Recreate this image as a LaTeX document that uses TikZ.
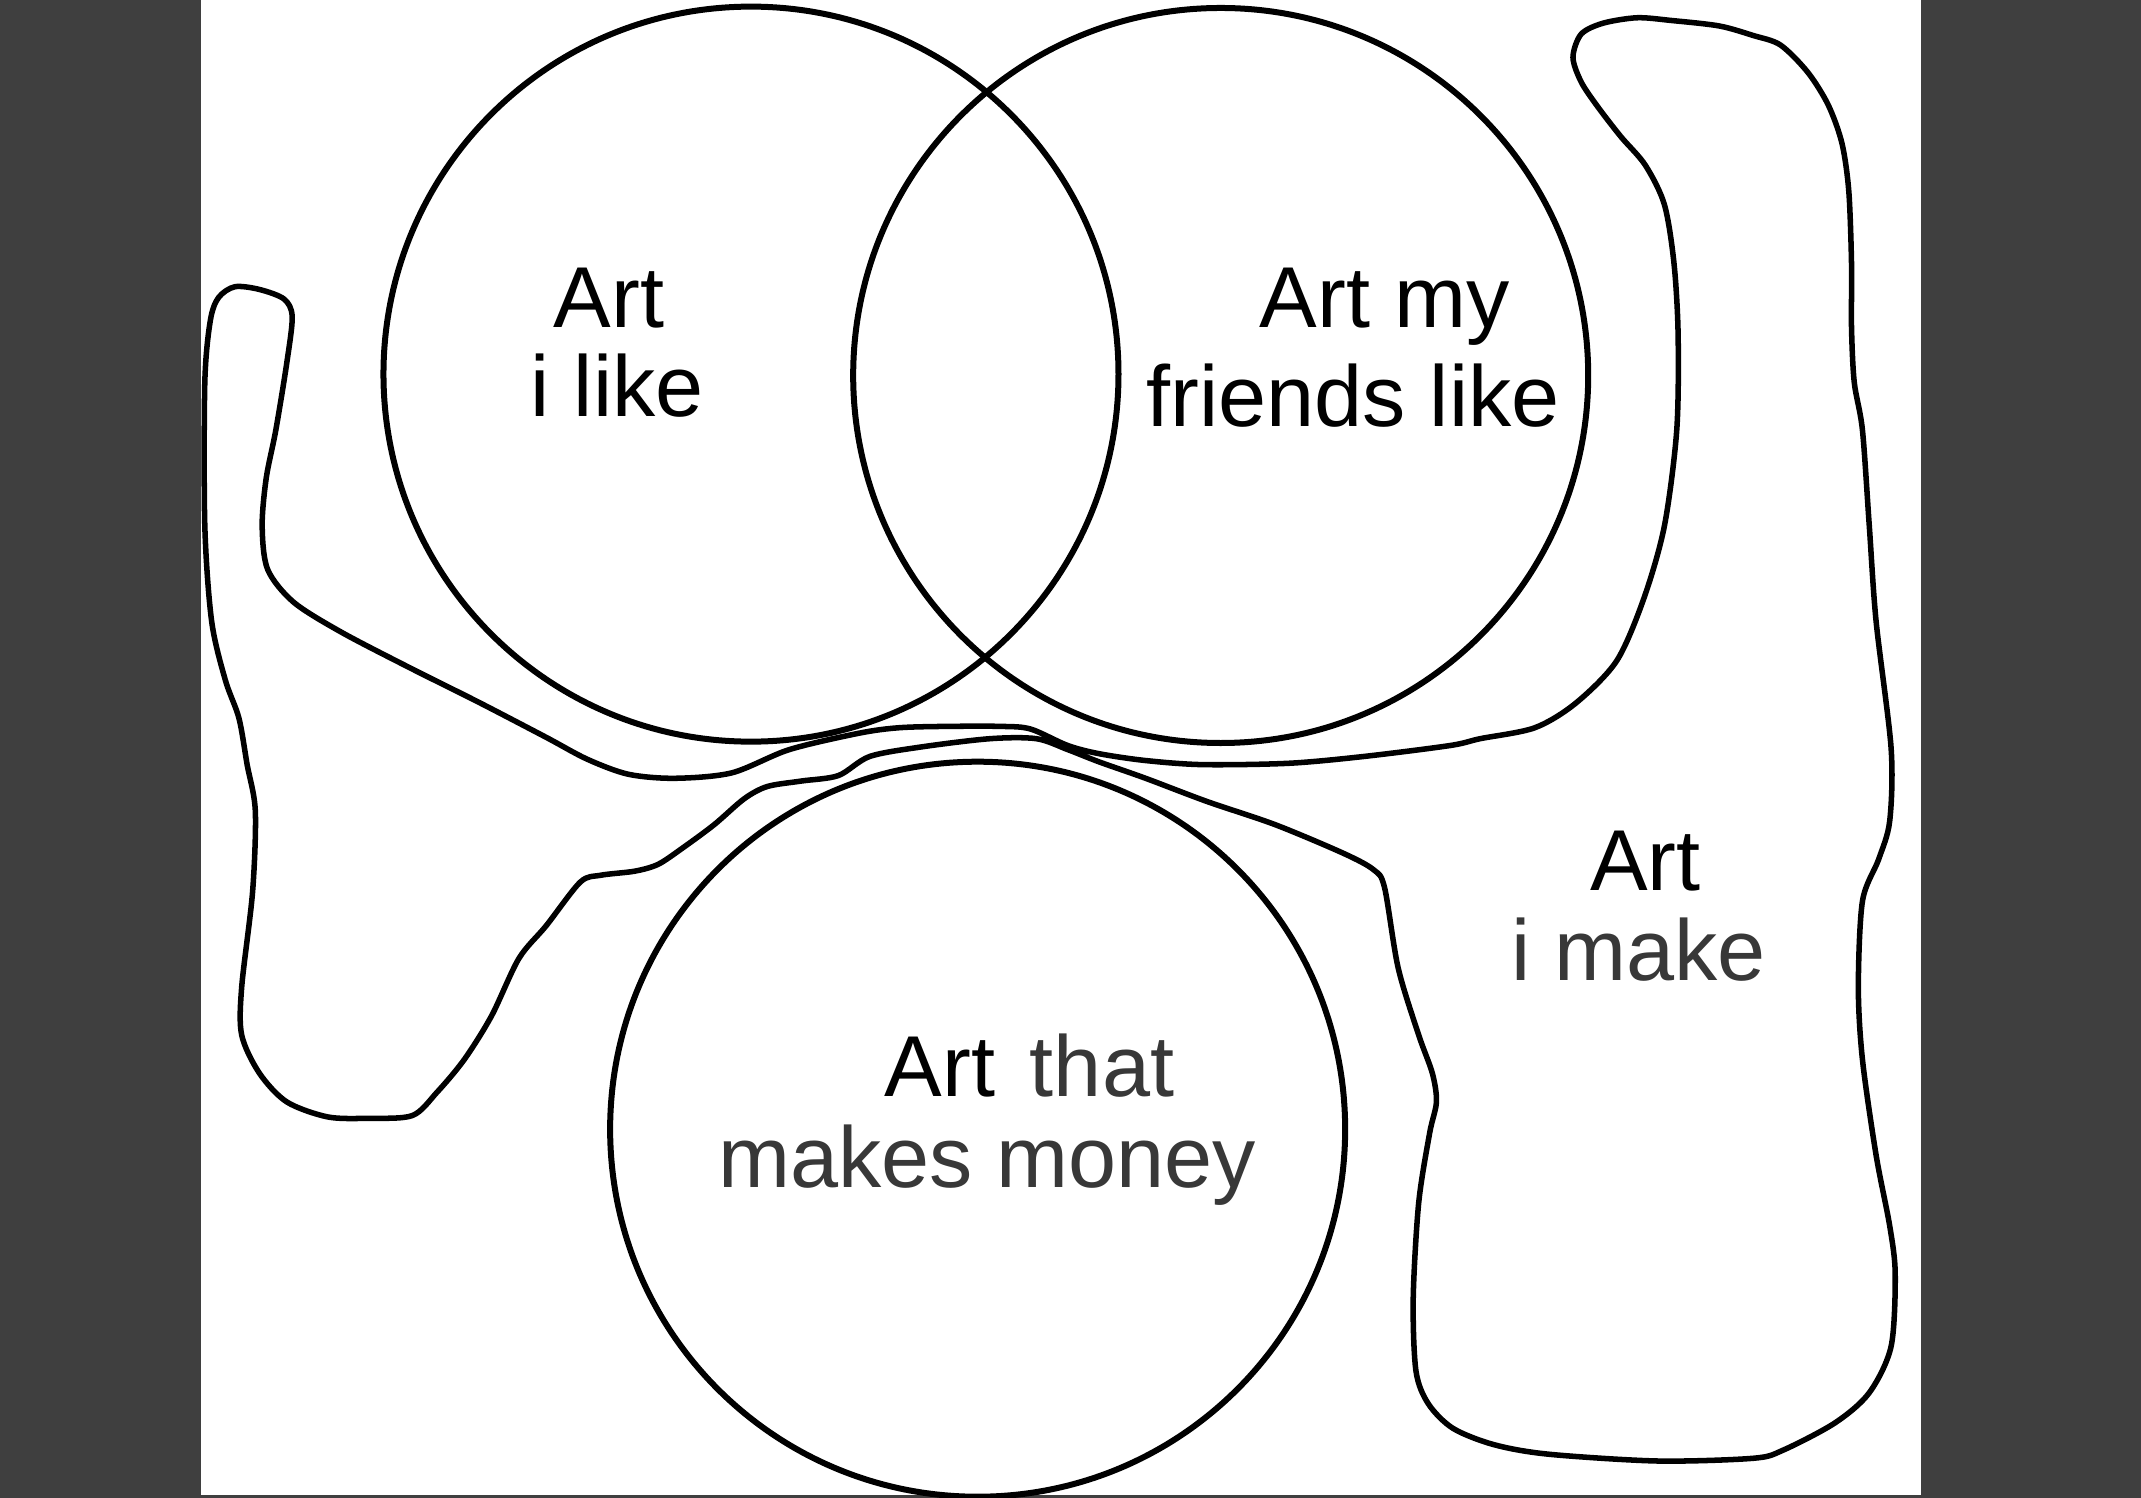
\documentclass[tikz,border=0pt]{standalone}
\usepackage{fontspec}
\setmainfont{Liberation Sans}
\definecolor{framegray}{HTML}{3F3F3F}
\definecolor{labelgray}{HTML}{383838}

\begin{document}
\begin{tikzpicture}[x=0.01cm, y=-0.01cm,
    venn/.style={draw, circle, line width=1.25pt, minimum size=5.38cm, inner sep=0pt},
    blob/.style={draw, line width=1.15pt, line join=round},
    lbl/.style={anchor=base, inner sep=0pt, font=\fontsize{18}{18}\selectfont}]
    \fill[framegray] (0,0) rectangle (1568,1097);
    \fill[white] (147,0) rectangle (1407,1095);
    \useasboundingbox (0,0) rectangle (1568,1097);

    \draw[blob] plot[smooth cycle, tension=0.5] coordinates {
        (782,546) (755,534) (734,532) (692,532) (658,533) (629,537) (578,549)
        (536,566) (494,570) (460,567) (430,556) (400,540) (350,514) (300,489)
        (250,463) (215,441) (196,417) (192,385) (195,350) (202,315) (210,266)
        (214,232) (208,219) (190,212) (172,210) (160,218) (154,235) (150,280)
        (150,385) (155,455) (165,498) (175,526) (181,560) (187,594) (185,653)
        (177,723) (177,758) (190,786) (210,807) (240,818) (270,819) (302,817)
        (320,800) (340,776) (360,744) (380,702) (400,678) (425,646) (440,641)
        (465,638) (482,633) (500,621) (523,604) (545,585) (562,576) (587,572)
        (614,568) (637,554) (675,547) (725,541) (759,541) (782,549) (805,558)
        (839,570) (884,587) (934,604) (984,625) (1006,637) (1014,650)
        (1024,709) (1039,758) (1049,786) (1052,807) (1047,830) (1039,881)
        (1035,951) (1037,1004) (1046,1028) (1064,1046) (1094,1058) (1134,1065)
        (1214,1070) (1284,1068) (1306,1062) (1344,1042) (1369,1020) (1385,986)
        (1388,933) (1384,898) (1374,846) (1364,776) (1361,723) (1364,660)
        (1376,629) (1384,601) (1385,548) (1374,455) (1369,385) (1364,315)
        (1358,280) (1356,240) (1356,193) (1354,140) (1349,105) (1339,77)
        (1324,53) (1304,33) (1284,26) (1259,19) (1224,15) (1199,13) (1174,17)
        (1158,25) (1152,42) (1158,60) (1170,78) (1187,100) (1205,121)
        (1219,150) (1226,193) (1229,245) (1228,315) (1219,385) (1204,438)
        (1184,484) (1154,515) (1124,533) (1084,541) (1062,546) (999,554)
        (944,559) (881,560) (839,557) (805,552)
    };

    \node[venn] (artlike) at (550,274) {};
    \node[venn] (artfriends) at (894,275) {};
    \node[venn] (artmoney) at (716,827) {};

    \node[lbl] (likeart) at (446,240) {Art};
    \node[lbl] (liketext) at (452,305) {i like};
    \node[lbl] (friendsart) at (1014,240) {Art my};
    \node[lbl] (friendstext) at (991,312) {friends like};
    \node[lbl] (makeart) at (1205,652) {Art};
    \node[lbl, labelgray] (maketext) at (1200,718) {i make};
    \node[lbl] (moneyart) at (754,803) {Art\hspace{0.4em}\textcolor{labelgray}{that}};
    \node[lbl, labelgray] (moneytext) at (723,870) {makes money};
\end{tikzpicture}
\end{document}
